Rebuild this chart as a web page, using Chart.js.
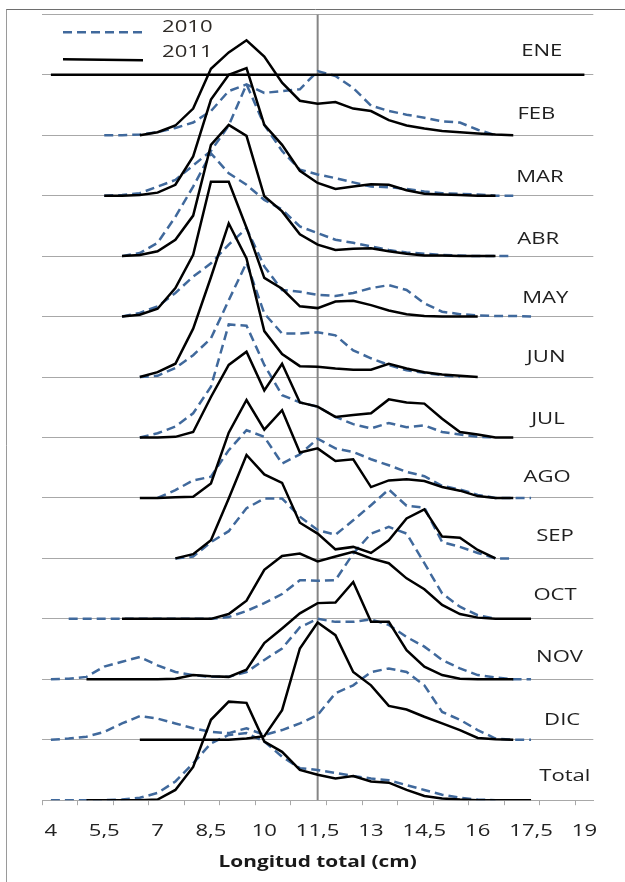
<!DOCTYPE html>
<html>
<head>
<meta charset="utf-8">
<script src="https://cdn.jsdelivr.net/npm/chart.js@4.4.1/dist/chart.umd.min.js"></script>
<style>
  html, body { margin: 0; padding: 0; background: #ffffff; }
  #wrap { position: relative; width: 625px; height: 882px; }
  canvas { display: block; }
</style>
</head>
<body>
<div id="wrap"><canvas id="chart" width="625" height="882"></canvas></div>
<script>
// Length classes (cm), 0.5 cm bins
const lengthClasses = ['4','4,5','5','5,5','6','6,5','7','7,5','8','8,5','9','9,5','10','10,5',
  '11','11,5','12','12,5','13','13,5','14','14,5','15','15,5','16','16,5','17','17,5','18','18,5','19'];

// Rows, top to bottom
const rowNames = ['ENE','FEB','MAR','ABR','MAY','JUN','JUL','AGO','SEP','OCT','NOV','DIC','Total'];

// Relative frequency (%) per length class, 2010 samples
const ene2010 = [];
const feb2010 = [null,null,null,0,0,0.1,0.5,1.2,2.1,4.0,7.3,8.4,7.0,7.3,7.6,10.6,9.8,7.8,4.9,4.0,3.4,2.9,2.3,2.1,0.9,0,null,null,null,null,null];
const mar2010 = [null,null,null,0,0.1,0.4,1.5,2.6,5.0,7.4,11.6,18.4,11.7,7.4,4.3,3.5,2.9,2.2,1.5,1.4,1.1,0.7,0.4,0.3,0.2,0,0,null,null,null,null];
const abr2010 = [null,null,null,null,0,0.5,2.2,6.5,11.5,17.0,13.7,11.8,9.3,7.7,4.9,3.8,2.7,2.2,1.6,1.0,0.6,0.4,0.2,0.1,0,0,0,null,null,null,null];
const may2010 = [null,null,null,null,0,0.6,1.7,3.9,6.6,8.8,11.9,14.6,8.3,4.4,4.1,3.6,3.4,3.9,4.7,5.2,4.4,2.2,0.8,0.4,0.2,0.1,0.1,0,null,null,null];
const jun2010 = [null,null,null,null,null,0,0.2,1.5,3.6,6.4,12.7,18.9,10.5,7.2,7.2,7.4,6.9,4.4,3.1,2.0,1.1,0.7,0.3,0,null,null,null,null,null,null,null];
const jul2010 = [null,null,null,null,null,0,0.7,1.8,4.0,8.4,18.7,18.5,12.0,7.0,5.8,5.1,3.4,2.2,1.5,2.4,1.7,2.0,0.9,0.5,0.1,0,null,null,null,null,null];
const ago2010 = [null,null,null,null,null,null,0,1.3,2.9,3.5,7.9,11.2,10.1,5.7,7.2,9.8,8.2,7.6,6.4,5.4,4.3,3.6,2.0,1.4,0.5,0,0,0,null,null,null];
const sep2010 = [null,null,null,null,null,null,null,0,0.3,2.7,4.5,8.3,9.9,9.9,6.9,4.7,3.9,6.3,8.8,11.4,8.7,8.4,2.7,1.9,0.9,0,0,null,null,null,null];
const oct2010 = [null,0,0,0,0,0,0,0,0,0,0.3,1.3,2.6,4.1,6.4,6.3,6.4,10.8,14.1,15.2,14.1,9.2,4.2,2.0,0.6,0,null,null,null,null,null];
const nov2010 = [0,0.1,0.4,2.1,2.9,3.7,2.3,1.2,0.7,0.4,0.4,1.2,3.2,5.1,8.6,10.0,9.5,9.5,9.9,9.0,7.0,5.4,3.2,1.8,0.7,0.3,0,0,null,null,null];
const dic2010 = [0,0.2,0.5,1.3,2.7,3.9,3.5,2.7,1.9,1.3,1.1,1.9,0.8,1.6,2.7,4.1,7.7,9.0,11.2,11.8,11.2,9.0,4.6,3.3,1.6,0.2,0,0,null,null,null];
const tot2010 = [0,0,0,0,0.1,0.4,1.2,3.1,6.1,9.4,10.8,11.1,9.7,7.2,5.3,5.0,4.5,4.0,3.6,3.3,2.5,1.7,0.9,0.4,0.1,0,null,null,null,null,null];

// Relative frequency (%) per length class, 2011 samples
const ene2011 = [0,0,0,0,0,0,0,0,0,0,0,0,0,0,0,0,0,0,0,0,0,0,0,0,0,0,0,0,0,0,0];
const feb2011 = [null,null,null,null,null,0,0.5,1.6,4.4,11.0,13.7,15.7,13.0,8.7,5.7,5.2,5.5,4.4,4.0,2.5,1.6,1.1,0.7,0.5,0.3,0.1,0,null,null,null,null];
const mar2011 = [null,null,null,0,0,0.1,0.5,1.8,6.5,15.9,20.0,21.1,11.7,8.4,4.1,2.1,1.1,1.5,1.9,1.8,0.9,0.3,0.2,0.1,0,0,null,null,null,null,null];
const abr2011 = [null,null,null,null,0,0.2,0.8,2.7,6.7,18.4,21.7,19.9,9.9,7.4,3.6,1.9,1.0,1.2,1.3,0.8,0.4,0.1,0.1,0,0,0,null,null,null,null,null];
const may2011 = [null,null,null,null,0,0.3,1.3,4.7,10.2,22.3,22.3,14.7,6.4,4.6,1.7,1.4,2.5,2.6,1.9,1.0,0.4,0.1,0,0,0,null,null,null,null,null,null];
const jun2011 = [null,null,null,null,null,0,0.8,2.2,8.0,16.5,25.4,19.6,7.6,3.8,1.8,1.7,1.4,1.2,1.2,2.2,1.4,0.8,0.4,0.2,0,null,null,null,null,null,null];
const jul2011 = [null,null,null,null,null,0,0,0.1,0.9,6.7,12.0,14.2,7.8,12.2,5.8,5.1,3.4,3.7,4.0,6.3,5.8,5.6,3.1,0.9,0.5,0,0,null,null,null,null];
const ago2011 = [null,null,null,null,null,0,0,0.1,0.2,2.4,10.8,16.2,11.3,14.5,7.5,8.2,6.1,6.4,1.8,2.9,3.1,2.8,1.8,1.2,0.3,0,0,null,null,null,null];
const sep2011 = [null,null,null,null,null,null,null,0,0.7,3.0,9.9,17.1,13.9,12.5,5.9,4.1,1.5,1.9,0.9,3.0,6.6,8.1,3.6,3.4,1.4,0,null,null,null,null,null];
const oct2011 = [null,null,null,null,0,0,0,0,0,0,0.8,3.0,8.1,10.4,10.8,9.5,10.3,11.1,10.0,9.2,6.7,4.9,2.3,0.8,0.2,0,0,0,null,null,null];
const nov2011 = [null,null,0,0,0,0,0,0.1,0.7,0.5,0.4,1.6,6.0,8.4,10.9,12.6,12.7,16.1,9.5,9.5,4.8,2.1,0.7,0.1,0,0,0,null,null,null,null];
const dic2011 = [null,null,null,null,null,0,0,0,0,0,0,0.2,0.6,4.9,15.1,19.4,17.3,11.2,9.0,5.6,5.0,3.8,2.7,1.6,0.3,0.1,0,null,null,null,null];
const tot2011 = [null,null,0,0,0,0,0.1,1.7,5.5,13.3,16.3,16.1,9.7,8.0,5.0,4.2,3.6,4.0,3.1,2.9,1.7,0.7,0.3,0.1,0,0,0,0,null,null,null];

const series2010 = [ene2010, feb2010, mar2010, abr2010, may2010, jun2010, jul2010, ago2010, sep2010, oct2010, nov2010, dic2010, tot2010];
const series2011 = [ene2011, feb2011, mar2011, abr2011, may2011, jun2011, jul2011, ago2011, sep2011, oct2011, nov2011, dic2011, tot2011];

// Reference length marked with a vertical line
const markLength = '11,5';

// Layout / style settings
const ROW_STEP = 10;                 // % between stacked baselines
const Y_MAX = ROW_STEP * rowNames.length;
const BLUE = '#40699c';
const GRID = '#a8a8a8';
const TEXT = '#1f1f1f';
const FONT = '"Open Sans", "DejaVu Sans", sans-serif';
const STRETCH = 1.3;                 // horizontal widening of text
const rowLabelX = [27.6, 27.3, 27.5, 27.4, 27.8, 27.85, 27.95, 27.9, 28.35, 28.35, 28.6, 28.75, 28.9];
const rowLabelLift = [3.9, 3.4, 3.1, 2.8, 3.0, 3.3, 3.1, 3.5, 3.6, 3.9, 3.6, 3.3, 3.9];

function rowOffset(r) { return (rowNames.length - 1 - r) * ROW_STEP; }
function lifted(values, off) { return values.map(v => (v === null ? null : v + off)); }

const datasets = [];
rowNames.forEach((name, r) => {
  const off = rowOffset(r);
  if (series2010[r].length) {
    datasets.push({
      label: '2010', data: lifted(series2010[r], off),
      borderColor: BLUE, borderWidth: 2.5, borderDash: [9, 5],
      pointRadius: 0, fill: false, tension: 0, spanGaps: false, order: 1
    });
  }
  if (series2011[r].length) {
    datasets.push({
      label: '2011', data: lifted(series2011[r], off),
      borderColor: '#000000', borderWidth: 2.5,
      pointRadius: 0, fill: false, tension: 0, spanGaps: false, order: 0
    });
  }
});
datasets.push({
  label: 'ref', data: [{ x: markLength, y: 0 }, { x: markLength, y: Y_MAX }],
  borderColor: '#858585', borderWidth: 2, pointRadius: 0, fill: false, order: 2
});

function wideText(ctx, text, x, y, align, font, color) {
  ctx.save();
  ctx.font = font;
  ctx.fillStyle = color;
  ctx.textBaseline = 'middle';
  ctx.textAlign = align;
  ctx.translate(x, y);
  ctx.scale(STRETCH, 1);
  ctx.fillText(text, 0, 0);
  ctx.restore();
}

const decorations = {
  id: 'decorations',
  afterDraw(chart) {
    const { ctx, chartArea: a, scales: { x, y } } = chart;

    // length tick labels every 1.5 cm
    lengthClasses.forEach((lab, i) => {
      if (i % 3 !== 0) return;
      wideText(ctx, lab, x.getPixelForTick(i), a.bottom + 31, 'center', '17px ' + FONT, '#222222');
    });
    // axis title
    wideText(ctx, 'Longitud total (cm)', (a.left + a.right) / 2, a.bottom + 62, 'center', 'bold 16px ' + FONT, '#1a1a1a');

    // month labels
    rowNames.forEach((name, r) => {
      const px = x.getPixelForValue(rowLabelX[r]);
      const py = y.getPixelForValue(rowOffset(r) + rowLabelLift[r]);
      wideText(ctx, name, px, py, 'center', '17px ' + FONT, TEXT);
    });

    // legend
    ctx.save();
    ctx.lineWidth = 2.5;
    ctx.strokeStyle = BLUE;
    ctx.setLineDash([9, 5]);
    ctx.beginPath();
    ctx.moveTo(a.left + 21, a.top + 18);
    ctx.lineTo(a.left + 104, a.top + 18);
    ctx.stroke();
    ctx.setLineDash([]);
    ctx.strokeStyle = '#000000';
    ctx.beginPath();
    ctx.moveTo(a.left + 21, a.top + 45);
    ctx.lineTo(a.left + 101, a.top + 46);
    ctx.stroke();
    ctx.restore();
    wideText(ctx, '2010', a.left + 120, a.top + 12.5, 'left', '17px ' + FONT, '#2e2a26');
    wideText(ctx, '2011', a.left + 120, a.top + 37.5, 'left', '17px ' + FONT, '#2e2a26');

    // chart frame (top and left edges fall inside the picture)
    ctx.save();
    ctx.lineWidth = 1;
    ctx.strokeStyle = '#6e6e6e';
    ctx.beginPath();
    ctx.moveTo(6, 9.5);
    ctx.lineTo(625, 9.5);
    ctx.stroke();
    ctx.strokeStyle = '#9a9a9a';
    ctx.beginPath();
    ctx.moveTo(6.5, 9.5);
    ctx.lineTo(6.5, 882);
    ctx.stroke();
    ctx.restore();
  }
};

new Chart(document.getElementById('chart'), {
  type: 'line',
  data: { labels: lengthClasses, datasets },
  options: {
    responsive: false,
    animation: false,
    events: [],
    layout: { padding: { left: 42, right: 31.7, top: 14.3, bottom: 0 } },
    plugins: { legend: { display: false }, tooltip: { enabled: false } },
    scales: {
      x: {
        type: 'category',
        offset: true,
        grid: {
          offset: true,
          drawOnChartArea: false,
          drawTicks: true,
          tickLength: 5,
          lineWidth: 1,
          color: c => (c.index % 2 === 0 ? GRID : 'rgba(0,0,0,0)')
        },
        border: { display: true, color: GRID, width: 1 },
        ticks: { display: false, autoSkip: false },
        afterFit: s => { s.height = 81.8; }
      },
      y: {
        min: 0,
        max: Y_MAX,
        ticks: { display: false, stepSize: ROW_STEP },
        grid: { color: GRID, lineWidth: 1, drawTicks: false },
        border: { display: false },
        afterFit: s => { s.width = 0; }
      }
    }
  },
  plugins: [decorations]
});
</script>
</body>
</html>
